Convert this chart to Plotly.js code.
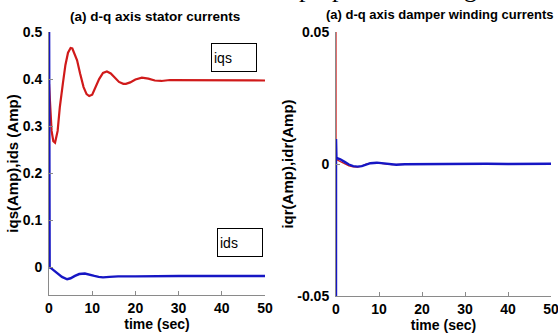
<!DOCTYPE html>
<html>
<head>
<meta charset="utf-8">
<script src="https://cdn.plot.ly/plotly-3.0.1.min.js"></script>
<style>html,body{margin:0;padding:0;background:#fff;}#chart{width:558px;height:333px;}</style>
</head>
<body>
<div id="chart"></div>
<script>
// ---- Data ----
var tIqs = [0, 0.3, 0.6, 1.0, 1.4, 2.0, 2.5, 3.2, 3.8, 4.4, 5.0, 5.4, 5.9, 6.5, 7.2, 8.0, 8.7, 9.3, 10.0, 10.8, 11.6, 12.5, 13.4, 14.3, 15.2, 16.2, 17.2, 17.8, 18.8, 20, 21.5, 23, 24.5, 26, 28, 30, 33, 36, 40, 45, 50];
var iqs  = [0.39, 0.33, 0.29, 0.268, 0.265, 0.29, 0.34, 0.39, 0.43, 0.456, 0.466, 0.465, 0.455, 0.44, 0.412, 0.383, 0.368, 0.364, 0.367, 0.382, 0.400, 0.413, 0.416, 0.412, 0.403, 0.394, 0.390, 0.390, 0.393, 0.399, 0.403, 0.401, 0.397, 0.396, 0.398, 0.398, 0.397, 0.398, 0.397, 0.397, 0.397];

var tIds = [0, 0.02, 0.06, 0.15, 0.4, 1.0, 2.0, 3.0, 4.2, 5.0, 6.0, 7.0, 8.3, 9.5, 10.5, 11.5, 12.5, 14, 16, 20, 25, 30, 40, 50];
var ids  = [0.6, 0.13, 0.02, 0.0, -0.001, -0.005, -0.013, -0.02, -0.025, -0.023, -0.018, -0.014, -0.013, -0.015, -0.018, -0.02, -0.021, -0.02, -0.019, -0.019, -0.018, -0.018, -0.018, -0.018];

var tIqr = [0, 0.02, 0.3, 1.0, 2.0, 3.0, 4.0, 5.0, 6.0, 7.0, 8.0, 9.5, 11, 13, 15, 20, 30, 40, 50];
var iqr  = [0.06, 0.003, 0.0015, 0.0009, 0.0, -0.0007, -0.0011, -0.0012, -0.0008, 0.0, 0.0003, 0.0004, 0.0001, -0.0002, -0.0001, 0.0, 0.0, 0.0, 0.0];

var tIdr = [0, 0.01, 0.1, 0.3, 1.0, 2.0, 3.0, 4.0, 5.0, 6.0, 7.0, 8.0, 9.5, 11, 12.5, 14, 16, 20, 25, 30, 35, 40, 45, 50];
var idr  = [-0.06, 0.0095, 0.0025, 0.0022, 0.0018, 0.0008, -0.0002, -0.0008, -0.001, -0.0008, -0.0002, 0.0003, 0.0005, 0.0002, -0.0002, -0.0003, -0.0001, 0.0, 0.0001, 0.0, 0.0001, 0.0, 0.0001, 0.0001];

var xTicks = [0, 10, 20, 30, 40, 50];
var yTicksL = [0, 0.1, 0.2, 0.3, 0.4, 0.5];
var yTickTextL = ['0', '0.1', '0.2', '0.3', '0.4', '0.5'];
var yTicksR = [-0.05, 0, 0.05];
var yTickTextR = ['-0.05', '0', '0.05'];

var titleL = '(a) d-q axis stator currents';
var titleR = '(a) d-q axis damper winding currents';
var yTitleL = 'iqs(Amp),ids (Amp)';
var yTitleR = 'iqr(Amp),idr(Amp)';
var xTitle = 'time (sec)';

// ---- Layout helpers ----
var W = 558, H = 333;
function xp(px) { return px / W; }
function yp(py) { return 1 - py / H; }

var RED = '#d01a1a', BLUE = '#1616c4', AXC = '#8a8a8a';
var FONT = 'Arial, "Liberation Sans", sans-serif';
var tickFont = {family: FONT, size: 14, color: '#000', weight: 'bold'};

var traces = [
  {x: tIqs, y: iqs, xaxis: 'x', yaxis: 'y', mode: 'lines', line: {color: RED, width: 2.2}, hoverinfo: 'skip'},
  {x: tIds, y: ids, xaxis: 'x', yaxis: 'y', mode: 'lines', line: {color: BLUE, width: 2.4}, hoverinfo: 'skip'},
  {x: tIqr, y: iqr, xaxis: 'x2', yaxis: 'y2', mode: 'lines', line: {color: RED, width: 1.2}, hoverinfo: 'skip'},
  {x: tIdr, y: idr, xaxis: 'x2', yaxis: 'y2', mode: 'lines', line: {color: BLUE, width: 2.4}, hoverinfo: 'skip'}
];

function xaxisDef(d0, d1, anchor) {
  return {
    domain: [d0, d1], anchor: anchor, range: [0, 50], tickvals: xTicks,
    ticks: 'inside', ticklen: 4, tickcolor: AXC, showline: true, linecolor: AXC, linewidth: 1,
    showgrid: false, zeroline: false, tickfont: tickFont, fixedrange: true, ticklabeloverflow: 'allow',
    title: {text: xTitle, font: {family: FONT, size: 14, color: '#000', weight: 'bold'}, standoff: 2}
  };
}
function yaxisDef(d0, d1, anchor, range, vals, texts, title) {
  return {
    domain: [d0, d1], anchor: anchor, range: range, tickvals: vals, ticktext: texts,
    ticks: 'inside', ticklen: 4, tickcolor: AXC, showline: true, linecolor: AXC, linewidth: 1,
    showgrid: false, zeroline: false, tickfont: tickFont, fixedrange: true, ticklabeloverflow: 'allow',
    ticklabelstandoff: 3,
    title: {text: title, font: {family: FONT, size: 15, color: '#000', weight: 'bold'}, standoff: 0}
  };
}

var layout = {
  width: W, height: H,
  margin: {l: 0, r: 0, t: 0, b: 0},
  paper_bgcolor: '#fff', plot_bgcolor: '#fff',
  showlegend: false,
  xaxis: xaxisDef(xp(49), xp(265), 'y'),
  yaxis: yaxisDef(yp(295), yp(32), 'x', [-0.0585, 0.5], yTicksL, yTickTextL, yTitleL),
  xaxis2: xaxisDef(xp(336), xp(551), 'y2'),
  yaxis2: yaxisDef(yp(296), yp(32), 'x2', [-0.05, 0.05], yTicksR, yTickTextR, yTitleR),
  annotations: [
    {text: titleL, xref: 'paper', yref: 'paper', x: xp(155), y: yp(16), xanchor: 'center', yanchor: 'middle', showarrow: false,
     font: {family: FONT, size: 13.5, color: '#000', weight: 'bold'}},
    {text: titleR, xref: 'paper', yref: 'paper', x: xp(324), y: yp(15), xanchor: 'left', yanchor: 'middle', showarrow: false,
     font: {family: FONT, size: 13, color: '#000', weight: 'bold'}},
    {text: 'iqs', xref: 'paper', yref: 'paper', x: xp(211), y: yp(43), xanchor: 'left', yanchor: 'top', showarrow: false,
     width: 40, height: 23, align: 'left', valign: 'middle', bordercolor: '#000', borderwidth: 1, borderpad: 2, bgcolor: '#fff',
     font: {family: FONT, size: 14, color: '#000'}},
    {text: 'ids', xref: 'paper', yref: 'paper', x: xp(217), y: yp(228), xanchor: 'left', yanchor: 'top', showarrow: false,
     width: 40, height: 23, align: 'left', valign: 'middle', bordercolor: '#000', borderwidth: 1, borderpad: 2, bgcolor: '#fff',
     font: {family: FONT, size: 14, color: '#000'}},
    // clipped descenders of a caption line above the figure
    {text: 'p', xref: 'paper', yref: 'paper', x: xp(305), y: yp(-11), xanchor: 'center', yanchor: 'middle', showarrow: false,
     font: {family: '"Liberation Serif", "Times New Roman", serif', size: 26, color: '#000'}},
    {text: 'p', xref: 'paper', yref: 'paper', x: xp(338), y: yp(-11), xanchor: 'center', yanchor: 'middle', showarrow: false,
     font: {family: '"Liberation Serif", "Times New Roman", serif', size: 26, color: '#000'}},
    {text: 'g', xref: 'paper', yref: 'paper', x: xp(470), y: yp(-11), xanchor: 'center', yanchor: 'middle', showarrow: false,
     font: {family: '"Liberation Serif", "Times New Roman", serif', size: 26, color: '#000'}}
  ]
};

Plotly.newPlot('chart', traces, layout, {displayModeBar: false, staticPlot: true});
</script>
</body>
</html>
